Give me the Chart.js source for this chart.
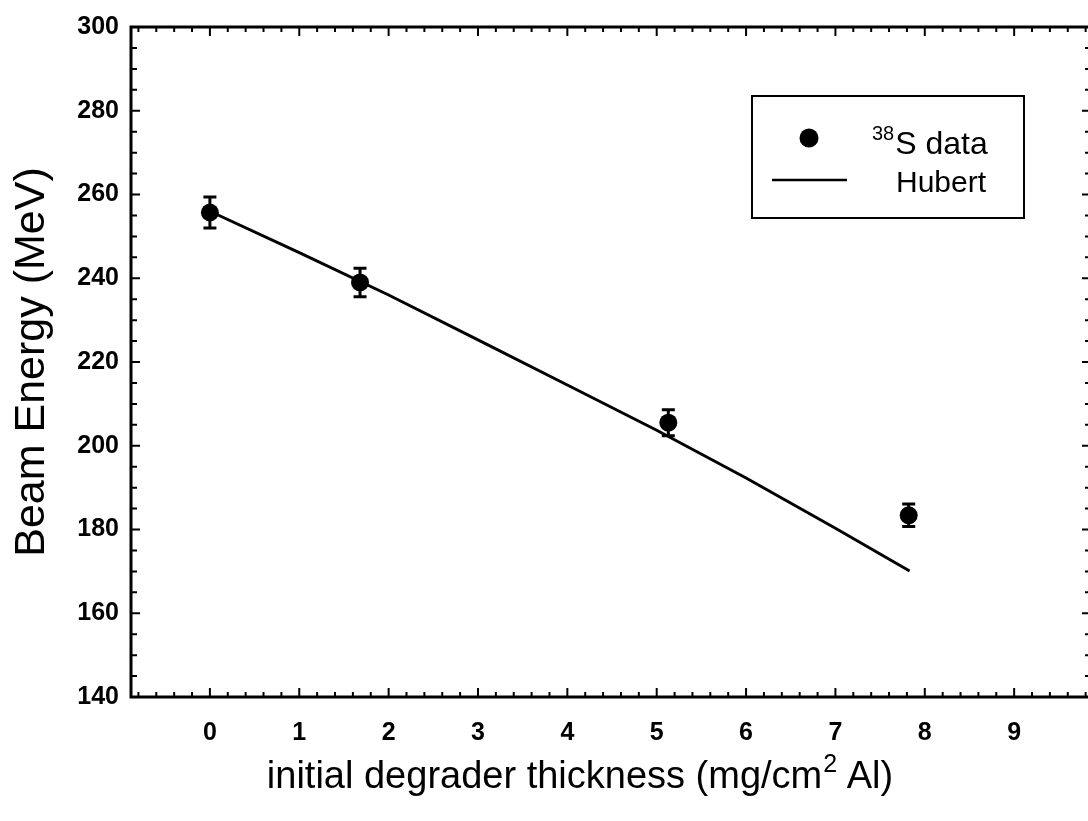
<!DOCTYPE html>
<html><head><meta charset="utf-8">
<script src="https://cdn.jsdelivr.net/npm/chart.js@4.4.0/dist/chart.umd.min.js"></script>
<style>
html,body{margin:0;padding:0;background:#fff;overflow:hidden;width:1088px;height:821px}
#wrap{position:absolute;left:0;top:0;width:1100px;height:821px}
</style></head>
<body><div id="wrap"><canvas id="c" width="1100" height="821"></canvas></div>
<script>
// ---- data ----
const dataX = [0, 1.68, 5.13, 7.82];
const dataY = [255.7, 239.0, 205.5, 183.4];
const dataErr = [3.7, 3.4, 3.1, 2.7];
const hubertX = [0, 1, 2, 3, 4, 5, 6, 7, 7.83];
const hubertY = [256.0, 246.1, 236.0, 225.3, 214.5, 203.7, 192.3, 180.3, 170.1];
const xTickLabels = ['0','1','2','3','4','5','6','7','8','9'];
const yTickLabels = ['140','160','180','200','220','240','260','280','300'];
const legendLabels = ['S data', 'Hubert'];
const legendSup = '38';
const xTitleParts = ['initial degrader thickness (mg/cm', '2', ' Al)'];
const yTitle = 'Beam Energy (MeV)';

const FONT = '"Liberation Sans", Arial, Helvetica, sans-serif';

const errorBars = {
  id: 'errorBars',
  afterDatasetsDraw(chart) {
    const {ctx, scales: {x, y}} = chart;
    ctx.save();
    ctx.strokeStyle = '#000';
    ctx.lineWidth = 3;
    for (let i = 0; i < dataX.length; i++) {
      const px = x.getPixelForValue(dataX[i]);
      const t = y.getPixelForValue(dataY[i] + dataErr[i]);
      const b = y.getPixelForValue(dataY[i] - dataErr[i]);
      ctx.beginPath();
      ctx.moveTo(px, t); ctx.lineTo(px, b);
      ctx.moveTo(px - 6.5, t); ctx.lineTo(px + 6.5, t);
      ctx.moveTo(px - 6.5, b); ctx.lineTo(px + 6.5, b);
      ctx.stroke();
    }
    ctx.restore();
  }
};

const frameTicks = {
  id: 'frameTicks',
  afterDraw(chart) {
    const {ctx, chartArea: a, scales: {x, y}} = chart;
    ctx.save();
    ctx.strokeStyle = '#000';
    ctx.lineWidth = 3;
    ctx.strokeRect(a.left, a.top, a.right - a.left, a.bottom - a.top);
    ctx.lineWidth = 2;
    ctx.beginPath();
    const x0 = Math.ceil(x.min / 0.2 - 1e-6);
    const x1 = Math.floor(x.max / 0.2 + 1e-6);
    for (let k = x0; k <= x1; k++) {
      const v = k * 0.2;
      const px = x.getPixelForValue(v);
      const major = (k % 5 === 0);
      const len = major ? 9 : 5;
      ctx.moveTo(px, a.bottom); ctx.lineTo(px, a.bottom - len);
      ctx.moveTo(px, a.top); ctx.lineTo(px, a.top + len);
    }
    for (let v = y.min; v <= y.max + 1e-6; v += 5) {
      const py = y.getPixelForValue(v);
      const major = (Math.round(v) % 20 === 0);
      const len = major ? 9 : 6;
      ctx.moveTo(a.left, py); ctx.lineTo(a.left + len, py);
      ctx.moveTo(a.right, py); ctx.lineTo(a.right - len, py);
    }
    ctx.stroke();
    ctx.restore();
  }
};

const customText = {
  id: 'customText',
  afterDraw(chart) {
    const {ctx} = chart;
    ctx.save();
    // legend
    ctx.strokeStyle = '#000';
    ctx.lineWidth = 2;
    ctx.strokeRect(752, 96, 272, 122);
    ctx.fillStyle = '#000';
    ctx.beginPath();
    ctx.arc(809, 138, 9.5, 0, Math.PI * 2);
    ctx.fill();
    ctx.lineWidth = 2.5;
    ctx.beginPath();
    ctx.moveTo(772, 180); ctx.lineTo(847, 180);
    ctx.stroke();
    ctx.textBaseline = 'alphabetic';
    ctx.textAlign = 'left';
    ctx.font = '20px ' + FONT;
    ctx.fillText(legendSup, 872, 140);
    const w = ctx.measureText(legendSup).width;
    ctx.font = '32px ' + FONT;
    ctx.fillText(legendLabels[0], 872 + w + 1, 154);
    ctx.font = '30px ' + FONT;
    ctx.fillText(legendLabels[1], 896, 192);
    // x axis title with superscript
    ctx.font = '38px ' + FONT;
    const w0 = ctx.measureText(xTitleParts[0]).width;
    const w2 = ctx.measureText(xTitleParts[2]).width;
    ctx.font = '25px ' + FONT;
    const w1 = ctx.measureText(xTitleParts[1]).width;
    const total = w0 + w1 + w2;
    let sx = 580 - total / 2;
    const base = 788;
    ctx.font = '38px ' + FONT;
    ctx.fillText(xTitleParts[0], sx, base);
    ctx.font = '25px ' + FONT;
    ctx.fillText(xTitleParts[1], sx + w0 + 1, base - 16);
    ctx.font = '38px ' + FONT;
    ctx.fillText(xTitleParts[2], sx + w0 + w1, base);
    ctx.restore();
  }
};

new Chart(document.getElementById('c'), {
  data: {
    datasets: [
      {
        type: 'scatter',
        label: 'data',
        data: dataX.map((v, i) => ({x: v, y: dataY[i]})),
        pointRadius: 9,
        pointBackgroundColor: '#000',
        pointBorderColor: '#000',
        pointBorderWidth: 0,
        showLine: false,
        order: 0
      },
      {
        type: 'line',
        label: 'Hubert',
        data: hubertX.map((v, i) => ({x: v, y: hubertY[i]})),
        borderColor: '#000',
        borderWidth: 3,
        pointRadius: 0,
        fill: false,
        tension: 0,
        order: 1
      }
    ]
  },
  options: {
    responsive: false,
    animation: false,
    devicePixelRatio: 1,
    layout: {padding: {left: 0, top: 26, right: 8, bottom: 0}},
    plugins: {legend: {display: false}, tooltip: {enabled: false}},
    scales: {
      x: {
        type: 'linear',
        min: -0.883,
        max: 9.86,
        grid: {display: false, drawTicks: false},
        border: {display: false},
        afterBuildTicks(s) { s.ticks = xTickLabels.map(t => ({value: parseFloat(t)})); },
        afterFit(s) { s.height = 124; },
        ticks: {
          color: '#000',
          font: {family: FONT, size: 25, weight: 'bold'},
          padding: 21,
          maxRotation: 0,
          autoSkip: false,
          callback: (v) => { const i = xTickLabels.indexOf(String(v)); return i >= 0 ? xTickLabels[i] : ''; }
        },
        title: {display: false}
      },
      y: {
        type: 'linear',
        min: 140,
        max: 300,
        grid: {display: false, drawTicks: false},
        border: {display: false},
        afterBuildTicks(s) { s.ticks = yTickLabels.map(t => ({value: parseFloat(t)})); },
        afterFit(s) { s.width = 131; },
        ticks: {
          color: '#000',
          font: {family: FONT, size: 25, weight: 'bold'},
          padding: 12,
          autoSkip: false,
          callback: (v) => { const i = yTickLabels.indexOf(String(v)); return i >= 0 ? yTickLabels[i] : ''; }
        },
        title: {
          display: true,
          text: yTitle,
          color: '#000',
          font: {family: FONT, size: 43},
          padding: {top: 6, bottom: 0}
        }
      }
    }
  },
  plugins: [errorBars, frameTicks, customText]
});
</script>
</body></html>
